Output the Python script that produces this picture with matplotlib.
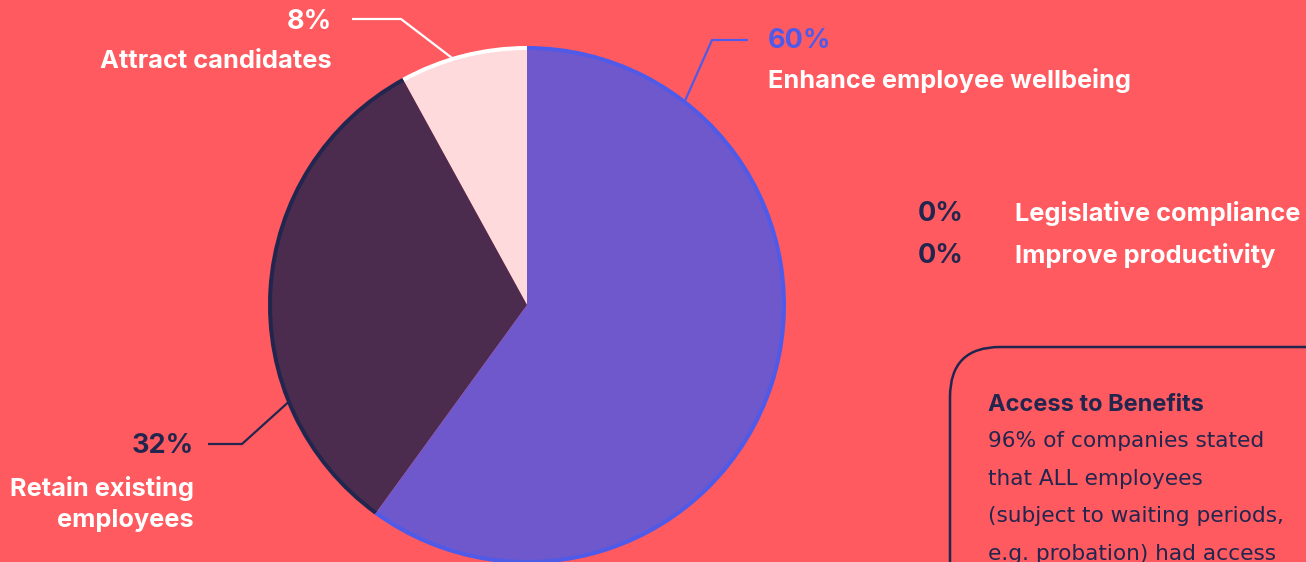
import numpy as np
import matplotlib
matplotlib.use("Agg")
import matplotlib.pyplot as plt
from matplotlib.patches import Arc, FancyBboxPatch

# Share of companies by main reason for offering benefits
categories = ["Attract candidates", "Retain existing", "employees", "Enhance employee wellbeing"]
values = [8, 32, 60]
zero_categories = ["Legislative compliance", "Improve productivity"]
zero_values = [0, 0]

BG = "#FF5A5F"
FILL = ["#FFDADD", "#4C2C4E", "#6F58CB"]
RIM = ["#FFFFFF", "#22264F", "#4F5BE8"]
NAVY = "#22264F"
BLUE = "#4F5BE8"
WHITE = "#FFFFFF"

W, H = 1306, 562
fig = plt.figure(figsize=(W / 100, H / 100), dpi=100, facecolor=BG)
ax = fig.add_axes([0, 0, 1, 1])
ax.set_facecolor(BG)

def Y(y):
    return H - y

cx, cy, r = 527, Y(305), 257
font = "Inter"
LAB = 18.3    # category labels
NUM = 19.5    # percentages

wedges, _ = ax.pie(values, colors=FILL, startangle=90, counterclock=True,
                   center=(cx, cy), radius=r,
                   wedgeprops=dict(linewidth=0, antialiased=True))

# coloured rim along the outer edge of each wedge
for w, c in zip(wedges, RIM):
    ax.add_patch(Arc((cx, cy), 2 * r, 2 * r, theta1=w.theta1, theta2=w.theta2,
                     color=c, lw=2.9, zorder=3))

ax.set_xlim(0, W)
ax.set_ylim(0, H)
ax.set_aspect("equal")
ax.axis("off")

def leader(angle, knee, end, color):
    a = np.deg2rad(angle)
    px, py = cx + r * np.cos(a), cy + r * np.sin(a)
    ax.plot([px, knee[0], end[0]], [py, Y(knee[1]), Y(end[1])],
            color=color, lw=1.6, solid_capstyle="butt", zorder=4)

def label(x, y, s, color, size, ha, weight="bold", fam=font):
    ax.text(x, Y(y), s, color=color, fontsize=size, fontweight=weight,
            family=fam, ha=ha, va="baseline")

# 8%
leader(106.7, (401, 19), (352, 19), WHITE)
label(332, 29, f"{values[0]}%", WHITE, NUM, "right")
label(332, 68, categories[0], WHITE, LAB, "right")

# 60%
leader(52.2, (712, 40), (748, 40), BLUE)
label(768, 48, f"{values[2]}%", BLUE, NUM, "left")
label(768, 88, categories[3], WHITE, LAB, "left")

# 32%
leader(202.1, (242, 444), (208, 444), NAVY)
label(194, 453, f"{values[1]}%", NAVY, NUM, "right")
label(194, 496, categories[1], WHITE, LAB, "right")
label(194, 527, categories[2], WHITE, LAB, "right")

# categories with no responses
for i, (lab, v) in enumerate(zip(zero_categories, zero_values)):
    yb = 221 + 42 * i
    label(918, yb, f"{v}%", NAVY, NUM, "left")
    label(1015, yb, lab, WHITE, LAB, "left")

# side note box
box = FancyBboxPatch((950, Y(700)), 500, 700 - 347,
                     boxstyle="round,pad=0,rounding_size=50",
                     facecolor="none", edgecolor=NAVY, lw=1.8, zorder=2, clip_on=True)
ax.add_patch(box)
label(988, 411, "Access to Benefits", NAVY, 17, "left")
note = ["96% of companies stated", "that ALL employees",
        "(subject to waiting periods,", "e.g. probation) had access"]
for i, line in enumerate(note):
    label(988, 447 + 37.7 * i, line, NAVY, 15.6, "left", weight="normal", fam="DejaVu Sans")

fig.savefig("out.png", dpi=100, facecolor=BG)
